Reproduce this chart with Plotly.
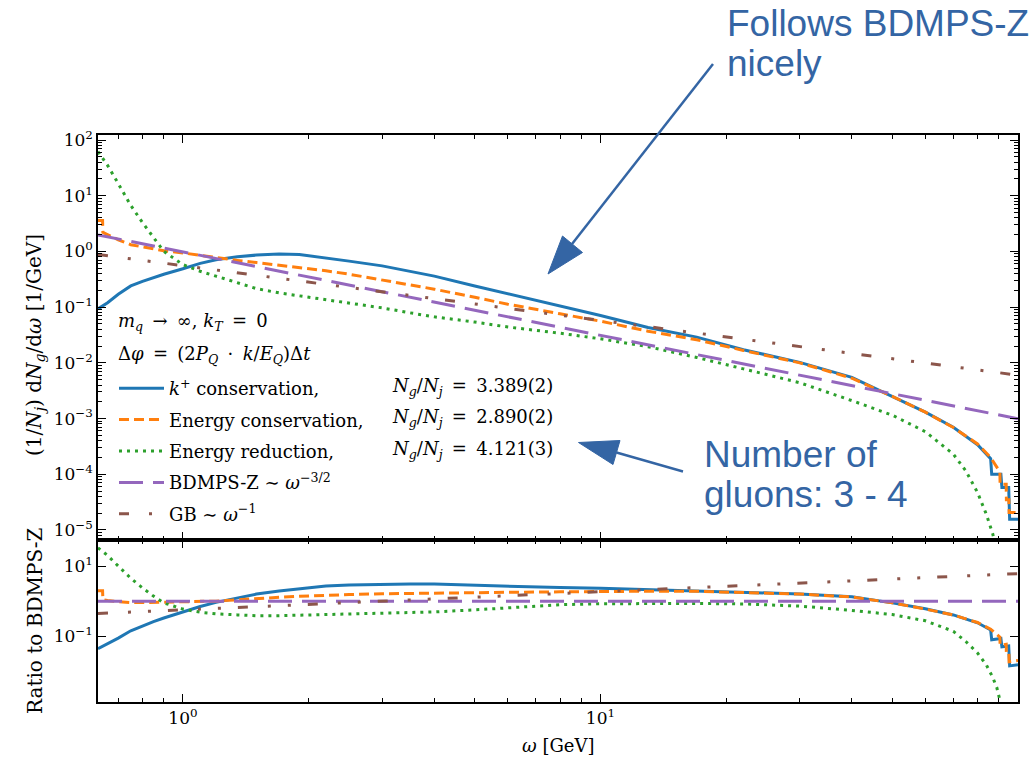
import math
import plotly.graph_objects as go

# ---------------- data ----------------
# k+ conservation (blue, solid)
omega_kplus = [0.626, 0.66, 0.7, 0.75, 0.8, 0.85, 0.9, 1.0, 1.1, 1.2, 1.35, 1.5, 1.7, 1.9,
               2.2, 2.5, 3.0, 3.5, 4.0, 5.0, 6.0, 8.0, 10, 13, 17, 22, 30, 40, 50, 60, 70, 80,
               86, 86.5, 91, 91.5, 95, 95.5, 100]
dn_kplus = [0.093, 0.12, 0.17, 0.24, 0.29, 0.34, 0.39, 0.49, 0.61, 0.71, 0.80, 0.86, 0.90, 0.88,
            0.77, 0.67, 0.55, 0.44, 0.36, 0.24, 0.175, 0.105, 0.071, 0.043, 0.029, 0.0172, 0.0102,
            0.0055, 0.0025, 0.0013, 7.0e-4, 3.4e-4, 1.9e-4, 1.0e-4, 1.0e-4, 5.8e-5, 5.8e-5, 1.55e-5, 1.55e-5]
ratio_kplus = [0.045, 0.062, 0.09, 0.145, 0.20, 0.265, 0.335, 0.50, 0.71, 0.93, 1.27, 1.6, 1.95, 2.28,
               2.7, 2.92, 3.08, 3.12, 3.07, 2.85, 2.65, 2.45, 2.35, 2.15, 1.97, 1.78, 1.62, 1.35, 0.9,
               0.61, 0.41, 0.245, 0.153, 0.081, 0.088, 0.051, 0.054, 0.0146, 0.0157]

# Energy conservation (orange, dashed)
omega_energy = [0.626, 0.642, 0.643, 0.66, 0.7, 0.75, 0.8, 0.85, 0.9, 1.0, 1.1, 1.2, 1.35, 1.5, 1.7,
                1.9, 2.2, 2.5, 3.0, 3.5, 4.0, 5.0, 6.0, 8.0, 10, 13, 17, 22, 30, 40, 50, 60, 70, 80,
                86, 90.5, 90.6, 93.7, 93.8, 95.1, 95.2, 100]
dn_energy = [3.6, 3.6, 2.2, 2.0, 1.62, 1.32, 1.2, 1.1, 1.03, 0.94, 0.85, 0.77, 0.69, 0.63, 0.57,
             0.52, 0.45, 0.39, 0.31, 0.255, 0.21, 0.15, 0.113, 0.076, 0.056, 0.037, 0.026, 0.0167,
             0.0100, 0.0053, 0.0025, 0.0013, 6.9e-4, 3.5e-4, 2.0e-4, 1.1e-4, 6.6e-5, 6.6e-5, 3.5e-5,
             3.5e-5, 2.05e-5, 2.05e-5]
ratio_energy = [2.0, 2.0, 1.12, 1.05, 0.97, 0.92, 0.92, 0.93, 0.94, 0.96, 0.98, 1.01, 1.1, 1.2, 1.3,
                1.38, 1.48, 1.55, 1.63, 1.68, 1.71, 1.76, 1.8, 1.85, 1.9, 1.93, 1.92, 1.8, 1.6, 1.33,
                0.9, 0.6, 0.41, 0.25, 0.161, 0.096, 0.057, 0.060, 0.032, 0.033, 0.0192, 0.0207]

# Energy reduction (green, dotted)
omega_reduction = [0.626, 0.66, 0.7, 0.75, 0.8, 0.85, 0.9, 1.0, 1.1, 1.2, 1.35, 1.5, 1.7, 1.9,
                   2.2, 2.5, 3.0, 3.5, 4.0, 5.0, 6.0, 8.0, 10, 13, 17, 22, 30, 40, 50, 60, 70,
                   75, 80, 84, 87, 89, 91]
dn_reduction = [62, 35, 16.5, 6.7, 3.3, 1.75, 1.0, 0.58, 0.44, 0.36, 0.27, 0.215, 0.18, 0.16,
                0.133, 0.117, 0.097, 0.079, 0.067, 0.054, 0.044, 0.034, 0.027, 0.0195, 0.0125,
                0.0078, 0.0044, 0.0021, 0.00115, 5.8e-4, 2.3e-4, 1.15e-4, 4.7e-5, 1.9e-5, 8.5e-6,
                4e-6, 1.3e-6]
ratio_reduction = [33, 20, 10, 4.5, 2.4, 1.4, 0.9, 0.6, 0.49, 0.44, 0.41, 0.39, 0.39, 0.40,
                   0.41, 0.43, 0.46, 0.48, 0.50, 0.57, 0.66, 0.80, 0.85, 0.87, 0.87, 0.84, 0.73,
                   0.55, 0.42, 0.28, 0.14, 0.072, 0.034, 0.0155, 0.0069, 0.0035, 0.0012]

# BDMPS-Z ~ w^-3/2 (purple) and GB ~ w^-1 (brown): straight lines on log-log axes
omega_bdmps = [0.626, 100]
dn_bdmps = [1.98, 0.00099]
ratio_bdmps = [1.0, 1.0]
omega_gb = [0.626, 100]
dn_gb = [0.88, 0.0060]
ratio_gb = [0.45, 6.1]

legend_names = ["<i>k</i><sup>+</sup> conservation,", "Energy conservation,", "Energy reduction,",
                "BDMPS-Z ∼ <i>ω</i><sup>−3/2</sup>", "GB ∼ <i>ω</i><sup>−1</sup>"]
gluon_numbers = ["3.389(2)", "2.890(2)", "4.121(3)"]

y_top_ticks = [1e-5, 1e-4, 1e-3, 1e-2, 1e-1, 1, 10, 100]
y_top_text = ["10<sup>−5</sup>", "10<sup>−4</sup>", "10<sup>−3</sup>", "10<sup>−2</sup>",
              "10<sup>−1</sup>", "10<sup>0</sup>", "10<sup>1</sup>", "10<sup>2</sup>"]
y_bot_ticks = [0.1, 10]
y_bot_text = ["10<sup>−1</sup>", "10<sup>1</sup>"]
x_ticks = [1, 10]
x_text = ["10<sup>0</sup>", "10<sup>1</sup>"]

# ---------------- layout geometry ----------------
W, H = 1035, 761
ML, MR, MT, MB = 98, 17, 135, 59
PW, PH = W - ML - MR, H - MT - MB
SPLIT = 162 / PH


def px(x):
    return (x - ML) / PW


def py(y):
    return (H - MB - y) / PH


SERIF = "DejaVu Serif"
SANS = "Liberation Sans"
BLUE_NOTE = "#3465a4"
SP = "\u2009"  # thin space for math-like spacing

styles = [
    dict(color="#1f77b4", width=3, dash="solid"),
    dict(color="#ff7f0e", width=3, dash="10px,5px"),
    dict(color="#2ca02c", width=3, dash="3px,5px"),
    dict(color="#9467bd", width=3, dash="24px,10px"),
    dict(color="#8c564b", width=3, dash="10px,20px,3px,17px,3px,17px"),
]
series = [
    (omega_kplus, dn_kplus, ratio_kplus),
    (omega_energy, dn_energy, ratio_energy),
    (omega_reduction, dn_reduction, ratio_reduction),
    (omega_bdmps, dn_bdmps, ratio_bdmps),
    (omega_gb, dn_gb, ratio_gb),
]

fig = go.Figure()
for i, ((xs, ys, rs), st, nm) in enumerate(zip(series, styles, legend_names)):
    fig.add_trace(go.Scatter(x=xs, y=ys, mode="lines", name=nm, line=st,
                             legendgroup=f"g{i}", showlegend=True,
                             xaxis="x", yaxis="y"))
for i, ((xs, ys, rs), st, nm) in enumerate(zip(series, styles, legend_names)):
    fig.add_trace(go.Scatter(x=xs, y=rs, mode="lines", name=nm, line=st,
                             legendgroup=f"g{i}", showlegend=False,
                             xaxis="x2", yaxis="y2"))

x_minor = [0.7, 0.8, 0.9] + [k for k in range(2, 10)] + [10 * k for k in range(2, 10)]
y_minor = [k * 10 ** e for e in range(-6, 3) for k in range(2, 10)]

axis_common = dict(type="log", showgrid=False, zeroline=False, showline=True,
                   linecolor="black", linewidth=1.5, mirror="allticks", ticks="inside",
                   tickcolor="black", tickwidth=1.3,
                   tickfont=dict(family=SERIF, size=17, color="black"))

fig.update_layout(
    width=W, height=H,
    margin=dict(l=ML, r=MR, t=MT, b=MB),
    paper_bgcolor="white", plot_bgcolor="white",
    xaxis=dict(axis_common, domain=[0, 1], anchor="y",
               range=[math.log10(0.626), 2.0], tickmode="array", tickvals=x_ticks,
               ticktext=x_text, showticklabels=False, ticklen=8,
               minor=dict(tickmode="array", tickvals=x_minor, ticks="inside", ticklen=4.5,
                          tickwidth=1.1, tickcolor="black")),
    yaxis=dict(axis_common, domain=[SPLIT, 1], anchor="x",
               range=[-5.18, 2.09], tickmode="array", tickvals=y_top_ticks,
               ticktext=y_top_text, ticklen=8,
               minor=dict(tickmode="array", tickvals=y_minor, ticks="inside", ticklen=4,
                          tickwidth=1.1, tickcolor="black")),
    xaxis2=dict(axis_common, domain=[0, 1], anchor="y2", matches="x",
                range=[math.log10(0.626), 2.0], tickmode="array", tickvals=x_ticks,
                ticktext=x_text, ticklen=8,
                minor=dict(tickmode="array", tickvals=x_minor, ticks="inside", ticklen=4.5,
                           tickwidth=1.1, tickcolor="black")),
    yaxis2=dict(axis_common, domain=[0, SPLIT], anchor="x2",
                range=[-2.86, 1.74], tickmode="array", tickvals=y_bot_ticks,
                ticktext=y_bot_text, ticklen=8),
    legend=dict(x=px(114), y=py(370), xanchor="left", yanchor="top",
                bgcolor="rgba(0,0,0,0)", borderwidth=0,
                font=dict(family=SERIF, size=18, color="black"),
                traceorder="grouped", tracegroupgap=5, itemwidth=45),
    showlegend=True,
)

ann = []
# y-axis titles and x-axis title
ann.append(dict(text="(1/<i>N<sub>j</sub></i>) d<i>N<sub>g</sub></i>/d<i>ω</i> [1/GeV]",
                x=px(35), y=py(345), xref="paper", yref="paper", textangle=-90,
                showarrow=False, font=dict(family=SERIF, size=20, color="black"),
                xanchor="center", yanchor="middle"))
ann.append(dict(text="Ratio to BDMPS-Z", x=px(35), y=py(621), xref="paper", yref="paper",
                textangle=-90, showarrow=False,
                font=dict(family=SERIF, size=20, color="black"),
                xanchor="center", yanchor="middle"))
ann.append(dict(text="<i>ω</i> [GeV]", x=0.5, y=py(745), xref="paper", yref="paper",
                showarrow=False, font=dict(family=SERIF, size=18, color="black"),
                xanchor="center", yanchor="middle"))
# legend header lines
ann.append(dict(text=f"<i>m<sub>q</sub></i> {SP}→{SP} ∞, <i>k<sub>T</sub></i> {SP}={SP} 0",
                x=px(116), y=py(322), xref="paper", yref="paper", showarrow=False,
                font=dict(family=SERIF, size=18, color="black"), xanchor="left", yanchor="middle"))
ann.append(dict(text=(f"Δ<i>φ</i> {SP}={SP} (2<i>P<sub>Q</sub></i> {SP}·{SP} <i>k</i>/"
                      f"<i>E<sub>Q</sub></i>)Δ<i>t</i>"),
                x=px(116), y=py(355), xref="paper", yref="paper", showarrow=False,
                font=dict(family=SERIF, size=18, color="black"), xanchor="left", yanchor="middle"))
# gluon-number column
for k, (val, yy) in enumerate(zip(gluon_numbers, [387, 418, 450])):
    ann.append(dict(text=f"<i>N<sub>g</sub></i>/<i>N<sub>j</sub></i> {SP}={SP} {val}",
                    x=px(390), y=py(yy), xref="paper", yref="paper", showarrow=False,
                    font=dict(family=SERIF, size=18, color="black"),
                    xanchor="left", yanchor="middle"))
# big blue notes
for txt, xx, yy in [("Follows BDMPS-Z", 725, 23), ("nicely", 725, 64),
                    ("Number of", 702, 454), ("gluons: 3 - 4", 702, 494)]:
    ann.append(dict(text=txt, x=px(xx), y=py(yy), xref="paper", yref="paper",
                    showarrow=False, font=dict(family=SANS, size=37, color=BLUE_NOTE),
                    xanchor="left", yanchor="middle"))
fig.update_layout(annotations=ann)

# arrows drawn as shapes in paper coordinates
shapes = []
for (x0, y0), (x1, y1), tip, b1, b2 in [
    ((713, 64), (572, 244), (548, 274), (562.5, 236), (582.5, 252.5)),
    ((683, 471.5), (616.5, 452.5), (578.5, 442.5), (620, 440.5), (613, 464.5)),
]:
    shapes.append(dict(type="line", xref="paper", yref="paper",
                       x0=px(x0), y0=py(y0), x1=px(x1), y1=py(y1),
                       line=dict(color=BLUE_NOTE, width=2.5)))
    path = (f"M {px(tip[0])},{py(tip[1])} L {px(b1[0])},{py(b1[1])} "
            f"L {px(b2[0])},{py(b2[1])} Z")
    shapes.append(dict(type="path", xref="paper", yref="paper", path=path,
                       fillcolor=BLUE_NOTE, line=dict(color=BLUE_NOTE, width=1)))
fig.update_layout(shapes=shapes)

fig.write_html("out.html")
